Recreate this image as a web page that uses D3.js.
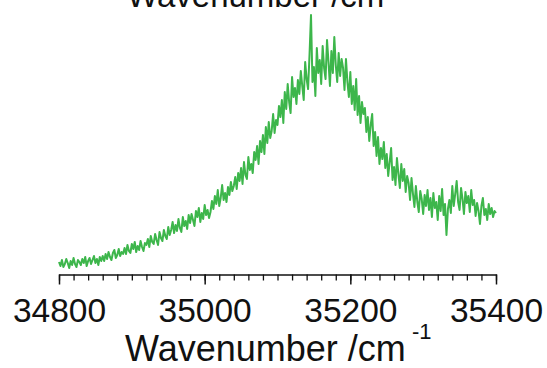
<!DOCTYPE html>
<html>
<head>
<meta charset="utf-8">
<script src="https://cdn.jsdelivr.net/npm/d3@7"></script>
<style>
  body { margin: 0; background: #fff; }
  svg { display: block; font-family: "Liberation Sans", Arial, sans-serif; }
</style>
</head>
<body>
<script>
// spectrum sampled every 2 cm-1 from 34800 to 35400
const wnStart = 34800, wnStep = 2;
const intensity = [
  10, 6, 12, 5, 8, 13, 9, 4, 11, 7, 14, 8, 5, 12, 10,
  7, 13, 9, 15, 6, 11, 14, 8, 12, 16, 9, 13, 7, 15, 11,
  16, 11, 18, 13, 20, 15, 12, 19, 22, 14, 17, 23, 16, 20, 18,
  24, 18, 27, 21, 19, 28, 23, 30, 20, 26, 22, 31, 25, 21, 29,
  27, 33, 25, 36, 30, 28, 38, 32, 27, 40, 34, 31, 42, 36, 33,
  45, 37, 42, 50, 39, 47, 41, 53, 44, 40, 55, 46, 51, 43, 57,
  49, 58, 52, 46, 61, 55, 64, 50, 59, 53, 67, 57, 62, 54, 60,
  71, 63, 76, 68, 82, 66, 74, 87, 72, 79, 70, 85, 77, 90, 81,
  86, 95, 83, 99, 91, 104, 88, 110, 97, 93, 115, 102, 108, 99, 120,
  112, 126, 108, 131, 120, 137, 118, 145, 129, 150, 134, 141, 158, 139, 152,
  147, 166, 155, 172, 149, 180, 163, 188, 170, 159, 195, 175, 184, 168, 192,
  178, 201, 186, 172, 210, 193, 183, 218, 257, 190, 205, 176, 224, 199, 212,
  188, 226, 204, 193, 232, 210, 186, 221, 199, 235, 207, 190, 219, 196, 213,
  204, 182, 213, 190, 175, 200, 168, 186, 162, 193, 157, 176, 149, 170, 158,
  164, 140, 155, 131, 147, 158, 126, 140, 116, 135, 108, 124, 113, 130, 104,
  118, 96, 110, 124, 92, 105, 87, 114, 98, 84, 108, 91, 103, 80, 96,
  89, 72, 94, 78, 65, 86, 70, 60, 81, 73, 58, 77, 66, 82, 62,
  74, 55, 79, 64, 70, 52, 76, 61, 83, 57, 68, 37, 63, 72, 59,
  86, 66, 78, 91, 70, 62, 84, 73, 58, 80, 69, 76, 60, 82, 67,
  72, 56, 69, 61, 48, 66, 74, 57, 63, 52, 68, 58, 64, 55, 61,
  59
];
const majorTicks = [34800, 35000, 35200, 35400];
const minorTicks = d3.range(34800, 35401, 20);
const axisTitle = "Wavenumber /cm";
const axisSup = "-1";

const width = 547, height = 368;
const axisY = 274.5;

const svg = d3.select("body").append("svg")
  .attr("width", width)
  .attr("height", height);

const x = d3.scaleLinear().domain([34800, 35400]).range([59, 496]);
const y = d3.scaleLinear().domain([0, 260]).range([272, 12]);

const points = intensity.map((v, i) => [wnStart + i * wnStep, v]);

// clipped title left over from the panel above
svg.append("text")
  .attr("x", 127).attr("y", 7)
  .style("font-size", "33px")
  .attr("fill", "#111")
  .text(axisTitle);

svg.append("path")
  .datum(points)
  .attr("fill", "none")
  .attr("stroke", "#3db64b")
  .attr("stroke-width", 2)
  .attr("stroke-linejoin", "round")
  .attr("d", d3.line().x(d => x(d[0])).y(d => y(d[1])));

// x axis
const gx = svg.append("g").attr("transform", `translate(0,${axisY})`);
gx.append("g")
  .call(d3.axisBottom(x).tickValues(minorTicks).tickSize(6).tickFormat(""))
  .call(g => g.select(".domain").remove())
  .selectAll("line").attr("stroke", "#111").attr("stroke-width", 1.3);
gx.append("g")
  .call(d3.axisBottom(x).tickValues(majorTicks).tickSize(10).tickSizeOuter(0).tickFormat(d3.format("d")).tickPadding(14))
  .call(g => g.select(".domain").attr("stroke", "#111").attr("stroke-width", 1.5))
  .call(g => g.selectAll("line").attr("stroke", "#111").attr("stroke-width", 1.5))
  .call(g => g.selectAll("text")
    .attr("fill", "#111")
    .style("font-size", "33.5px")
    .style("font-family", "'Liberation Sans', Arial, sans-serif"));

svg.append("text")
  .attr("x", 125).attr("y", 361)
  .attr("fill", "#111")
  .style("font-size", "36px")
  .text(axisTitle);
svg.append("text")
  .attr("x", 412).attr("y", 339)
  .attr("fill", "#111")
  .style("font-size", "22px")
  .text(axisSup);
</script>
</body>
</html>
